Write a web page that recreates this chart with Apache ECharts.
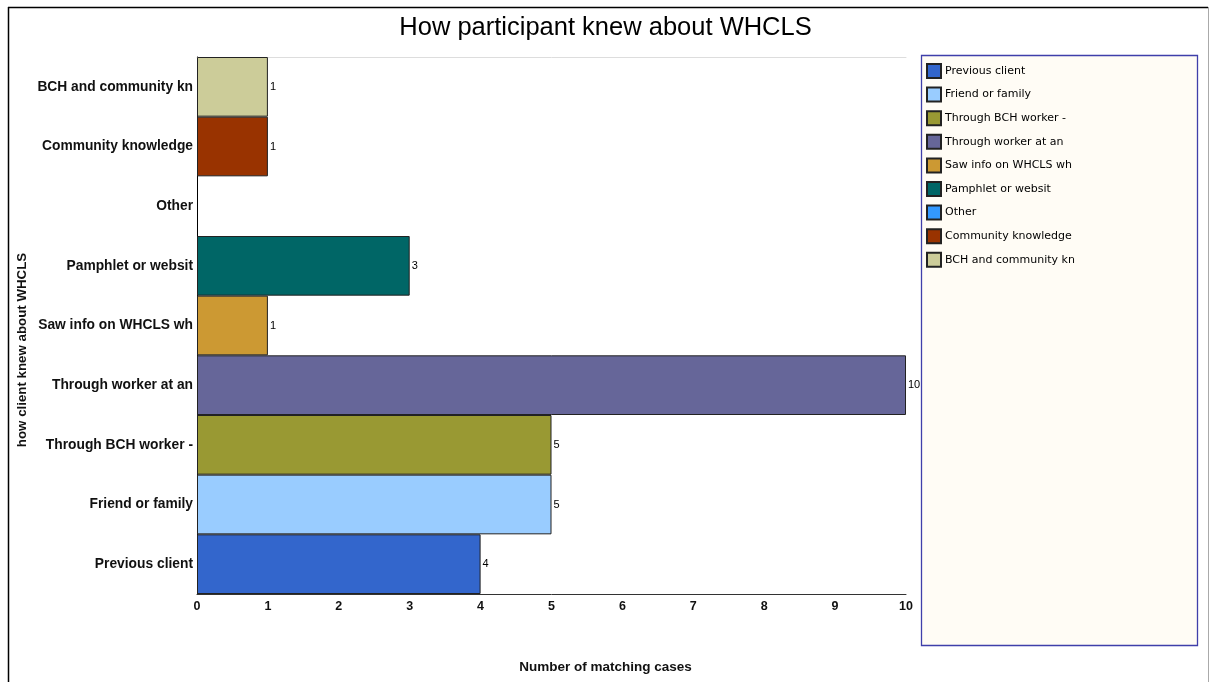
<!DOCTYPE html>
<html>
<head>
<meta charset="utf-8">
<script src="https://cdn.jsdelivr.net/npm/echarts@6/dist/echarts.min.js"></script>
<style>html,body{margin:0;padding:0;background:#fff;}#c{width:1211px;height:682px;}</style>
</head>
<body>
<div id="c"></div>
<script>
var categories = ['Previous client','Friend or family','Through BCH worker -','Through worker at an','Saw info on WHCLS wh','Pamphlet or websit','Other','Community knowledge','BCH and community kn'];
var values = [4, 5, 5, 10, 1, 3, 0, 1, 1];
var colors = ['#3366CC','#99CCFF','#999933','#666699','#CC9933','#006666','#3399FF','#993300','#CCCC99'];
var xTicks = [0,1,2,3,4,5,6,7,8,9,10];

var chart = echarts.init(document.getElementById('c'));
var series = categories.map(function(name, i){
  return {
    name: name,
    type: 'bar',
    stack: 'all',
    barCategoryGap: '0%',
    data: categories.map(function(c, j){ return (j === i && values[i] !== 0) ? values[i] : '-'; }),
    itemStyle: { color: colors[i], borderColor: '#222', borderWidth: 1 },
    label: { show: true, position: 'right', distance: 2, color: '#000', fontSize: 11, fontFamily: 'Liberation Sans' },
    emphasis: { disabled: true },
    animation: false
  };
});
chart.setOption({
  animation: false,
  title: [
    { text: 'How participant knew about WHCLS', left: 'center', top: 10, textStyle: { fontFamily: 'Liberation Sans', fontSize: 25.5, fontWeight: 'normal', color: '#000' } },
    { text: 'Number of matching cases', left: 'center', top: 655, textStyle: { fontFamily: 'Liberation Sans', fontSize: 13.5, fontWeight: 'bold', color: '#111' } }
  ],
  graphic: [
    { type: 'line', shape: { x1: 8.5, y1: 7, x2: 8.5, y2: 690 }, style: { stroke: '#000', lineWidth: 1.5 } },
    { type: 'line', shape: { x1: 8, y1: 7.5, x2: 1208, y2: 7.5 }, style: { stroke: '#000', lineWidth: 1.5 } },
    { type: 'line', shape: { x1: 1208.5, y1: 7, x2: 1208.5, y2: 690 }, style: { stroke: '#aaa', lineWidth: 1 } },
    { type: 'rect', shape: { x: 921.5, y: 55.5, width: 276, height: 590 }, style: { fill: '#FFFCF5', stroke: '#3F3FAA', lineWidth: 1.3 }, z: 0 },
    { type: 'text', x: 22, y: 350, rotation: Math.PI / 2, style: { text: 'how client knew about WHCLS', align: 'center', verticalAlign: 'middle', font: 'bold 13.3px "Liberation Sans"', fill: '#111' } }
  ],
  legend: {
    orient: 'vertical', left: 921, top: 58,
    itemWidth: 14, itemHeight: 14, itemGap: 7.6,
    icon: 'rect',
    selectedMode: false,
    textStyle: { fontFamily: 'DejaVu Sans', fontSize: 11, color: '#000', padding: [0,0,0,-1] },
    data: categories,
    z: 5
  },
  grid: { left: 197, right: 305, top: 57, bottom: 88, containLabel: false },
  xAxis: [
    { type: 'value', min: 0, max: 10, interval: 1,
      axisLine: { show: true, lineStyle: { color: '#333', width: 1 } },
      axisTick: { show: false }, splitLine: { show: false },
      axisLabel: { margin: 6, color: '#111', fontFamily: 'Liberation Sans', fontWeight: 'bold', fontSize: 12.5, formatter: function(v){ return xTicks.indexOf(v) >= 0 ? String(v) : ''; } } },
    { type: 'value', position: 'top', min: 0, max: 10, interval: 1,
      axisLine: { show: true, lineStyle: { color: '#ddd', width: 1 } },
      axisTick: { show: false }, axisLabel: { show: false }, splitLine: { show: false } }
  ],
  yAxis: {
    type: 'category', data: categories,
    axisLine: { show: true, lineStyle: { color: '#000', width: 1 } },
    axisTick: { show: false },
    axisLabel: { margin: 4, color: '#111', fontFamily: 'Liberation Sans', fontWeight: 'bold', fontSize: 13.8 }
  },
  series: series
});
</script>
</body>
</html>
